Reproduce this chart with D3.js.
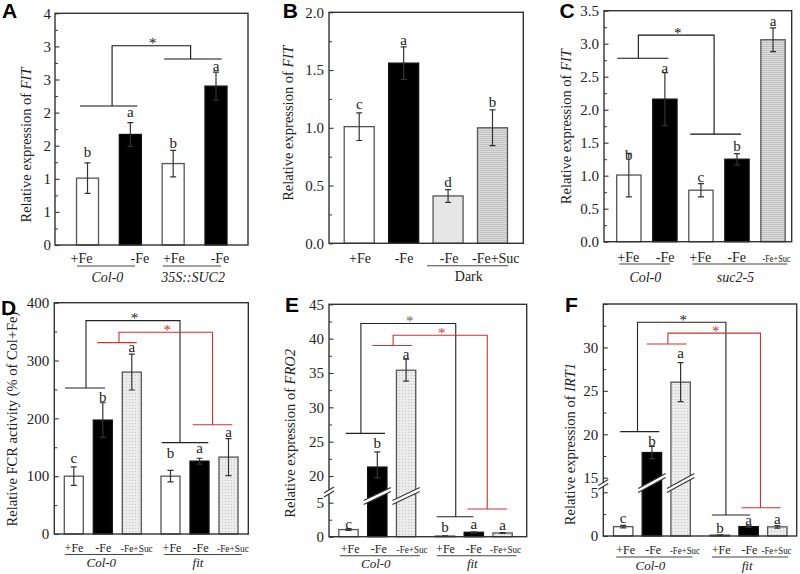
<!DOCTYPE html>
<html><head><meta charset="utf-8">
<script src="https://cdn.jsdelivr.net/npm/d3@7"></script>
<style>
body{margin:0;background:#fff}
svg{display:block}
text{font-family:"Liberation Serif","Times New Roman",serif;fill:#222}
</style>
</head><body>
<svg id="c" width="800" height="574"></svg>
<script>
// ---------------- DATA ----------------
// Panel A
const aConds = ["+Fe","-Fe","+Fe","-Fe"];
const aGroups = ["Col-0","Col-0","35S::SUC2","35S::SUC2"];
const aMeans = [1.01,1.67,1.23,2.40];
const aErrs = [0.23,0.18,0.20,0.21];
const aLetters = ["b","a","b","a"];
const aTicks = [0,0.5,1,1.5,2,2.5,3,3.5];
const aTickLabels = ["0","1","1","2","2","3","3","4"];
// Panel B
const bConds = ["+Fe","-Fe","-Fe","-Fe+Suc"];
const bGroups = ["","","Dark","Dark"];
const bMeans = [1.01,1.56,0.41,1.00];
const bErrs = [0.12,0.14,0.055,0.155];
const bLetters = ["c","a","d","b"];
const bTicks = [0,0.5,1,1.5,2];
const bTickLabels = ["0.0","0.5","1.0","1.5","2.0"];
// Panel C
const cConds = ["+Fe","-Fe","+Fe","-Fe","-Fe+Suc"];
const cGroups = ["Col-0","Col-0","suc2-5","suc2-5","suc2-5"];
const cMeans = [1.01,2.16,0.78,1.25,3.06];
const cErrs = [0.33,0.40,0.10,0.085,0.18];
const cLetters = ["b","a","c","b","a"];
const cTicks = [0,0.5,1,1.5,2,2.5,3,3.5];
const cTickLabels = ["0.0","0.5","1.0","1.5","2.0","2.5","3.0","3.5"];
// Panel D
const dConds = ["+Fe","-Fe","-Fe+Suc","+Fe","-Fe","-Fe+Suc"];
const dGroups = ["Col-0","Col-0","Col-0","fit","fit","fit"];
const dMeans = [100,197,280,100,126,133];
const dErrs = [16,30,31,10,5,32];
const dLetters = ["c","b","a","b","a","a"];
const dTicks = [0,100,200,300,400];
const dTickLabels = ["0","100","200","300","400"];
// Panel E
const eConds = ["+Fe","-Fe","-Fe+Suc","+Fe","-Fe","-Fe+Suc"];
const eGroups = ["Col-0","Col-0","Col-0","fit","fit","fit"];
const eMeans = [1.05,21.3,35.4,0.1,0.65,0.55];
const eErrs = [0.12,2.2,1.6,0.03,0.08,0.07];
const eLetters = ["c","b","a","b","a","a"];
const eTicks = [0,5,20,25,30,35,40,45];
const eTickLabels = ["0","5","20","25","30","35","40","45"];
// Panel F
const fConds = ["+Fe","-Fe","-Fe+Suc","+Fe","-Fe","-Fe+Suc"];
const fGroups = ["Col-0","Col-0","Col-0","fit","fit","fit"];
const fMeans = [1.07,17.9,26.0,0.1,1.07,1.05];
const fErrs = [0.15,0.7,2.25,0.03,0.1,0.15];
const fLetters = ["c","b","a","b","a","a"];
const fTicks = [0,5,15,20,25,30,35];
const fTickLabels = ["0","5","15","20","25","30",""];

// ---------------- RENDER ----------------
const svg = d3.select("#c");
const defs = svg.append("defs");
const hl = defs.append("pattern").attr("id","hl").attr("width",2).attr("height",2).attr("patternUnits","userSpaceOnUse");
hl.append("rect").attr("width",2).attr("height",2).attr("fill","#dcdcdc");
hl.append("rect").attr("width",2).attr("height",1).attr("fill","#c2c2c2");
const dots = defs.append("pattern").attr("id","dots").attr("width",3).attr("height",3).attr("patternUnits","userSpaceOnUse");
dots.append("rect").attr("width",3).attr("height",3).attr("fill","#ececec");
dots.append("rect").attr("width",1).attr("height",1).attr("fill","#c4c4c4");

function fillFor(cond, group, pat){
  if(cond==="+Fe") return "#fff";
  if(cond==="-Fe") return group==="Dark" ? "#e6e6e6" : "#000";
  return pat;
}
function singleBand(keys, r0, step, bw){
  const pi = 1 - bw/step;
  const s = d3.scaleBand().domain(keys).range([r0, r0 + step*keys.length]).paddingInner(pi).paddingOuter(pi/2);
  return i => s(keys[i]);
}
function nestedBand(groups, conds, r0, r1, step, bw){
  const gs = Array.from(new Set(groups));
  const cs = Array.from(new Set(conds));
  const outer = d3.scaleBand().domain(gs).range([r0,r1]);
  const c = outer.bandwidth()/2;
  const pi = 1 - bw/step;
  const inner = d3.scaleBand().domain(cs).range([c - step*cs.length/2, c + step*cs.length/2]).paddingInner(pi).paddingOuter(pi/2);
  return i => outer(groups[i]) + inner(conds[i]);
}

function panel(cfg){
  const g = svg.append("g");
  const {x0,x1,y0,y1} = cfg.box;
  const y = cfg.y, bw = cfg.bw, xl = cfg.xLeft;
  const n = cfg.means.length;
  const cx = i => xl(i) + bw/2;
  const idx = d3.range(n);

  // bars
  g.selectAll("rect.bar").data(idx).join("rect")
    .attr("x", i => xl(i)).attr("width", bw)
    .attr("y", i => y(cfg.means[i])).attr("height", i => y(0) - y(cfg.means[i]))
    .attr("fill", i => fillFor(cfg.conds[i], cfg.groups[i], cfg.pat))
    .attr("stroke", i => cfg.conds[i]==="-Fe" && cfg.groups[i]!=="Dark" ? "#111" : "#555")
    .attr("stroke-width", 1.3);

  // bar breaks
  if(cfg.barBreak){
    const bb = cfg.barBreak;
    bb.bars.forEach(i => {
      const xa = xl(i) - 4, xb = xl(i) + bw + 4, c = cx(i);
      const yc = x => bb.yc + bb.slope*(x - c);
      const t = bb.t/2;
      g.append("polygon").attr("points", [[xa,yc(xa)-t],[xb,yc(xb)-t],[xb,yc(xb)+t],[xa,yc(xa)+t]].map(p=>p.join(",")).join(" "))
        .attr("fill","#fff");
      [-t, t].forEach(o => g.append("line").attr("x1",xa).attr("y1",yc(xa)+o).attr("x2",xb).attr("y2",yc(xb)+o)
        .attr("stroke","#333").attr("stroke-width",1.1));
    });
  }

  // error bars
  idx.forEach(i => {
    const m = cfg.means[i], e = cfg.errs[i], c = cx(i);
    const yt = y(m+e), yb = y(Math.max(0,m-e));
    g.append("path").attr("d", `M${c},${yt}V${yb}M${c-3},${yt}H${c+3}M${c-3},${yb}H${c+3}`)
      .attr("stroke","#333").attr("stroke-width",1.2).attr("fill","none");
  });

  // significance letters
  g.selectAll("text.let").data(idx).join("text")
    .attr("x", i => cx(i)).attr("y", i => y(cfg.means[i] + cfg.errs[i]) - cfg.letterGap[i])
    .attr("text-anchor","middle").attr("font-size",15).text(i => cfg.letters[i]);

  // brackets
  (cfg.brackets||[]).forEach(b => {
    const ax0 = cx(b.a[0]) - b.extA[0], ax1 = cx(b.a[1]) + b.extA[1];
    const bx0 = cx(b.b[0]) - b.extB[0], bx1 = cx(b.b[1]) + b.extB[1];
    const sa = (ax0+ax1)/2 + b.sa, sb = (bx0+bx1)/2 + b.sb;
    const ya = y(b.ya), yb = y(b.yb), yt = y(b.top);
    g.append("path").attr("d", `M${ax0},${ya}H${ax1}M${sa},${ya}V${yt}H${sb}V${yb}M${bx0},${yb}H${bx1}`)
      .attr("stroke", b.color).attr("stroke-width",1.1).attr("fill","none");
    g.append("text").attr("x",(sa+sb)/2 + 1.5).attr("y", yt + 2.5).attr("text-anchor","middle")
      .attr("font-size",15).style("fill", b.starColor || b.color).text("*");
  });

  // frame
  g.append("rect").attr("x",x0).attr("y",y0).attr("width",x1-x0).attr("height",y1-y0)
    .attr("fill","none").attr("stroke","#333").attr("stroke-width",1.4);

  // axes
  const ax = g.append("g").attr("transform",`translate(${x0},0)`)
    .call(d3.axisLeft(y).tickValues(cfg.ticks).tickSize(-4.5).tickPadding(cfg.tickPad)
      .tickFormat((d,i) => cfg.tickLabels[i]));
  ax.select(".domain").remove();
  ax.attr("font-family",null).attr("font-size",cfg.tickSize).attr("color","#222");
  ax.selectAll("line").attr("stroke","#333").attr("stroke-width",1.1);
  const mn = g.append("g").attr("transform",`translate(${x0},0)`)
    .call(d3.axisLeft(y).tickValues(cfg.minor).tickSize(-3).tickFormat(""));
  mn.select(".domain").remove();
  mn.selectAll("line").attr("stroke","#333").attr("stroke-width",1);

  // axis break
  if(cfg.axisBreak){
    const ab = cfg.axisBreak;
    const xa = x0 - 5, xb = x0 + 5;
    const yc = x => ab.yc + ab.slope*(x - x0);
    const t = ab.t/2;
    g.append("polygon").attr("points", [[xa,yc(xa)-t],[xb,yc(xb)-t],[xb,yc(xb)+t],[xa,yc(xa)+t]].map(p=>p.join(",")).join(" "))
      .attr("fill","#fff");
    [-t,t].forEach(o => g.append("line").attr("x1",xa).attr("y1",yc(xa)+o).attr("x2",xb).attr("y2",yc(xb)+o)
      .attr("stroke","#333").attr("stroke-width",1.1));
  }

  // y title
  const yt = g.append("text").attr("transform",`translate(${cfg.title.x},${cfg.title.y}) rotate(-90)`)
    .attr("text-anchor","middle").attr("font-size",14.5);
  cfg.title.parts.forEach(p => yt.append("tspan").text(p[0]).attr("font-style", p[1] ? "italic" : null));

  // condition labels
  idx.forEach(i => {
    const t = g.append("text").attr("x", cx(i) + cfg.condDx[i]).attr("y", cfg.condY)
      .attr("text-anchor","middle").attr("font-size", cfg.condSize).text(cfg.conds[i]);
    if(cfg.conds[i]==="-Fe+Suc" && cfg.sucLen){
      t.attr("font-size", cfg.sucSize).attr("textLength", cfg.sucLen).attr("lengthAdjust","spacingAndGlyphs");
    }
  });

  // group underline + label
  const gnames = Array.from(new Set(cfg.groups)).filter(d => d !== "");
  gnames.forEach((name, k) => {
    const ids = idx.filter(i => cfg.groups[i] === name);
    const ext = cfg.groupExt[k];
    const gx0 = cx(ids[0]) - ext[0], gx1 = cx(ids[ids.length-1]) + ext[1];
    g.append("line").attr("x1",gx0).attr("x2",gx1).attr("y1",cfg.underY).attr("y2",cfg.underY)
      .attr("stroke","#444").attr("stroke-width",1.1);
    g.append("text").attr("x", d3.mean(ids, cx) - 1.5).attr("y", cfg.groupY).attr("text-anchor","middle")
      .attr("font-size", cfg.groupSize).attr("font-style", name==="Dark" ? null : "italic").text(name);
  });

  // panel letter
  g.append("text").attr("x", cfg.tag.x).attr("y", cfg.tag.y).attr("font-size",21).attr("font-weight","bold")
    .style("font-family",'"Liberation Sans",Arial,sans-serif').style("fill","#000").text(cfg.tag.t);
}

const minorOf = (ticks, h) => ticks.slice(0,-1).map(t => t + h);

// Panel A
panel({
  box:{x0:55,x1:248,y0:13.3,y1:245},
  y: d3.scaleLinear().domain([0,3.5]).range([245,13.3]),
  ticks:aTicks, tickLabels:aTickLabels, minor:minorOf(aTicks,0.25), tickPad:4, tickSize:15,
  xLeft: singleBand(aGroups.map((g,i)=>g+"|"+aConds[i]), 66.1, 42.83, 22), bw:22,
  conds:aConds, groups:aGroups, means:aMeans, errs:aErrs, letters:aLetters,
  letterGap:[6,5.4,2.4,1.6], pat:"url(#hl)",
  condY:263.3, condDx:[-6,9.5,0.7,4], condSize:14,
  underY:266, groupExt:[[10.5,4.7],[10.3,5]], groupY:281.7, groupSize:14,
  brackets:[{a:[0,1], ya:2.10, extA:[7.5,7], sa:3.4, b:[2,3], yb:2.81, extB:[9,5.7], sb:-2.3, top:3.01, color:"#111"}],
  title:{x:31, y:145, parts:[["Relative expression of ",false],["FIT",true]]},
  tag:{x:2, y:18.3, t:"A"}
});
// Panel B
panel({
  box:{x0:329,x1:523.3,y0:12.3,y1:243.3},
  y: d3.scaleLinear().domain([0,2]).range([243.3,12.3]),
  ticks:bTicks, tickLabels:bTickLabels, minor:minorOf(bTicks,0.25), tickPad:5, tickSize:15,
  xLeft: singleBand(bGroups.map((g,i)=>g+"|"+bConds[i]), 337, 44.43, 30), bw:30,
  conds:bConds, groups:bGroups, means:bMeans, errs:bErrs, letters:bLetters,
  letterGap:[3.4,2,2.6,2.4], pat:"url(#hl)",
  condY:263.3, condDx:[0.8,0.4,1,3.3], condSize:14,
  underY:265.7, groupExt:[[21,15.8]], groupY:280.7, groupSize:14,
  title:{x:292.5, y:123.3, parts:[["Relative expression of ",false],["FIT",true]]},
  tag:{x:282.7, y:18.3, t:"B"}
});
// Panel C
panel({
  box:{x0:604,x1:791.7,y0:10.7,y1:241.7},
  y: d3.scaleLinear().domain([0,3.5]).range([241.7,10.7]),
  ticks:cTicks, tickLabels:cTickLabels, minor:minorOf(cTicks,0.25), tickPad:5, tickSize:15,
  xLeft: singleBand(cGroups.map((g,i)=>g+"|"+cConds[i]), 610.8, 36.05, 24.3), bw:24.3,
  conds:cConds, groups:cGroups, means:cMeans, errs:cErrs, letters:cLetters,
  letterGap:[-6.7,-0.6,1.6,2.6,1.6], pat:"url(#hl)",
  condY:261.7, condDx:[-0.5,0.2,-0.7,-0.3,3.5], condSize:14, sucLen:28, sucSize:10.5,
  underY:264, groupExt:[[9.5,5.2],[8.4,14.3]], groupY:281.7, groupSize:14,
  brackets:[{a:[0,1], ya:2.78, extA:[11.5,3.5], sa:-4.5, b:[2,3], yb:1.63, extB:[10.7,4], sb:-1.5, top:3.13, color:"#111"}],
  title:{x:571, y:126.7, parts:[["Relative expression of ",false],["FIT",true]]},
  tag:{x:559.5, y:18.3, t:"C"}
});
// Panel D
panel({
  box:{x0:54.3,x1:248.3,y0:302.7,y1:534},
  y: d3.scaleLinear().domain([0,400]).range([534,302.7]),
  ticks:dTicks, tickLabels:dTickLabels, minor:minorOf(dTicks,50), tickPad:5, tickSize:15,
  xLeft: nestedBand(dGroups, dConds, 54.45, 247.85, 29, 19), bw:19,
  conds:dConds, groups:dGroups, means:dMeans, errs:dErrs, letters:dLetters,
  letterGap:[4,1,2,12.4,5,2], pat:"url(#dots)",
  condY:551.7, condDx:[0.2,0.5,5,1.5,1,4.5], condSize:12, sucLen:32, sucSize:11,
  underY:554.5, groupExt:[[8.8,11.5],[6.2,13.2]], groupY:566.7, groupSize:13,
  brackets:[
    {a:[0,1], ya:252.6, extA:[8.8,2.2], sa:1, b:[3,4], yb:158, extB:[8.8,8.8], sb:-5, top:369, color:"#222"},
    {a:[1,2], ya:331, extA:[5.5,4.9], sa:2, b:[4,5], yb:189, extB:[6.8,3.8], sb:0, top:349, color:"#cc3333"}
  ],
  title:{x:16.5, y:419, parts:[["Relative FCR activity (% of Col+Fe)",false]]},
  tag:{x:1, y:315.3, t:"D"}
});
// Panel E
panel({
  box:{x0:329,x1:526.7,y0:304.3,y1:536.7},
  y: d3.scaleLinear().domain([0,5,20,45]).range([536.7,502.7,476,304.3]),
  ticks:eTicks, tickLabels:eTickLabels, minor:[2.5,22.5,27.5,32.5,37.5,42.5], tickPad:5, tickSize:15,
  xLeft: nestedBand(eGroups, eConds, 329.05, 522.05, 28.8, 19.3), bw:19.3,
  conds:eConds, groups:eGroups, means:eMeans, errs:eErrs, letters:eLetters,
  letterGap:[0,4,0,4,2.7,2.6], pat:"url(#dots)",
  condY:553.3, condDx:[1.6,1.5,6,0.5,0,3], condSize:12, sucLen:31, sucSize:11,
  underY:555.8, groupExt:[[8.7,13.8],[8.3,13.9]], groupY:568.3, groupSize:13,
  barBreak:{bars:[1,2], yc:496, slope:-0.47, t:4},
  axisBreak:{yc:492, slope:-0.6, t:4},
  brackets:[
    {a:[0,1], ya:26.2, extA:[2.7,7.7], sa:-4.5, b:[3,4], yb:2.94, extB:[8.3,-0.4], sb:0.7, top:42.2, color:"#222", starColor:"#666"},
    {a:[1,2], ya:39.0, extA:[5,5.8], sa:1, b:[4,5], yb:4.07, extB:[6.4,4.5], sb:0, top:40.5, color:"#cc3333"}
  ],
  title:{x:295, y:433.3, parts:[["Relative expression of ",false],["FRO2",true]]},
  tag:{x:285, y:311.7, t:"E"}
});
// Panel F
panel({
  box:{x0:603.3,x1:796.7,y0:304,y1:536},
  y: d3.scaleLinear().domain([0,5,15,35]).range([536,492.3,477.7,304]),
  ticks:fTicks, tickLabels:fTickLabels, minor:[2.5,17.5,22.5,27.5,32.5], tickPad:5, tickSize:15,
  xLeft: nestedBand(fGroups, fConds, 603.55, 796.95, 28.7, 19.4), bw:19.4,
  conds:fConds, groups:fGroups, means:fMeans, errs:fErrs, letters:fLetters,
  letterGap:[2,0,4.4,1.7,0.8,1.2], pat:"url(#dots)",
  condY:554, condDx:[2.5,1.3,4.3,1.3,0.8,-0.8], condSize:12, sucLen:30, sucSize:10.5,
  underY:557, groupExt:[[7,12],[8,11]], groupY:570, groupSize:13,
  barBreak:{bars:[1,2], yc:483, slope:-0.55, t:4},
  axisBreak:{yc:484.5, slope:-0.6, t:4},
  brackets:[
    {a:[0,1], ya:20.3, extA:[3,7.3], sa:-2.2, b:[3,4], yb:2.4, extB:[8,1.3], sb:-5, top:32.9, color:"#222"},
    {a:[1,2], ya:30.4, extA:[5.3,6], sa:1.3, b:[4,5], yb:3.24, extB:[7,3.4], sb:-0.7, top:31.65, color:"#cc3333"}
  ],
  title:{x:575, y:444, parts:[["Relative expression of ",false],["IRT1",true]]},
  tag:{x:565, y:311.7, t:"F"}
});
</script>
</body></html>
